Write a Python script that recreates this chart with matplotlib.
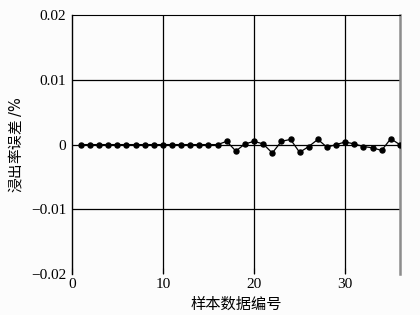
import matplotlib
matplotlib.use("Agg")
import matplotlib.pyplot as plt

sample_ids = list(range(1, 37))
errors = [0, 0, 0, 0, 0, 0, 0, 0, 0, 0, 0, 0, 0, 0, 0, 0,
          0.0005, -0.001, 0.0001, 0.0005, 0.0001, -0.0013, 0.0005, 0.0008,
          -0.0012, -0.0003, 0.0008, -0.0004, 0.0, 0.0004, 0.0001, -0.0003,
          -0.0005, -0.0009, 0.0009, 0.0]
x_ticks = [0, 10, 20, 30]
y_ticks = [-0.02, -0.01, 0, 0.01, 0.02]
y_ticklabels = ["\u22120.02", "\u22120.01", "0", "0.01", "0.02"]

plt.rcParams["mathtext.fontset"] = "custom"
plt.rcParams["mathtext.it"] = "Liberation Serif:italic"

fig = plt.figure(figsize=(4.2, 3.15), dpi=100)
fig.patch.set_facecolor("#fcfcfc")
ax = fig.add_axes([0.171, 0.130, 0.781, 0.822])
ax.set_facecolor("#fcfcfc")

for v in [10, 20, 30]:
    ax.axvline(v, color="black", lw=0.9, zorder=1)
for v in [-0.01, 0.01]:
    ax.axhline(v, color="black", lw=0.9, zorder=1)
ax.axhline(0, color="black", lw=0.9, zorder=1)

ax.plot(sample_ids, errors, color="black", lw=0.9, marker="o", ms=3.6, zorder=3)

ax.set_xlim(0, 36)
ax.set_ylim(-0.02, 0.02)
ax.set_xticks(x_ticks)
ax.set_yticks(y_ticks)
ax.set_yticklabels(y_ticklabels)

ax.spines["bottom"].set_visible(False)
ax.spines["top"].set_linewidth(0.8)
ax.spines["left"].set_linewidth(1.0)
ax.spines["right"].set_color("#8c8c8c")
ax.spines["right"].set_linewidth(1.8)

ax.tick_params(axis="x", direction="in", length=4, width=0.8, pad=3, labelsize=11)
ax.tick_params(axis="y", direction="in", length=0, pad=4, labelsize=11)
for lab in ax.get_xticklabels() + ax.get_yticklabels():
    lab.set_fontfamily("Liberation Serif")

ax.set_xlabel("样本数据编号", family=["Noto Sans CJK SC", "DejaVu Sans"], fontsize=11, labelpad=3)
ax.set_ylabel("浸出率误差 $\\mathit{/\\%}$", family=["Noto Sans CJK SC", "DejaVu Sans"],
              fontsize=10.5)
ax.yaxis.set_label_coords(-0.145, 0.5)

fig.savefig("out.png", dpi=100, facecolor=fig.get_facecolor())
